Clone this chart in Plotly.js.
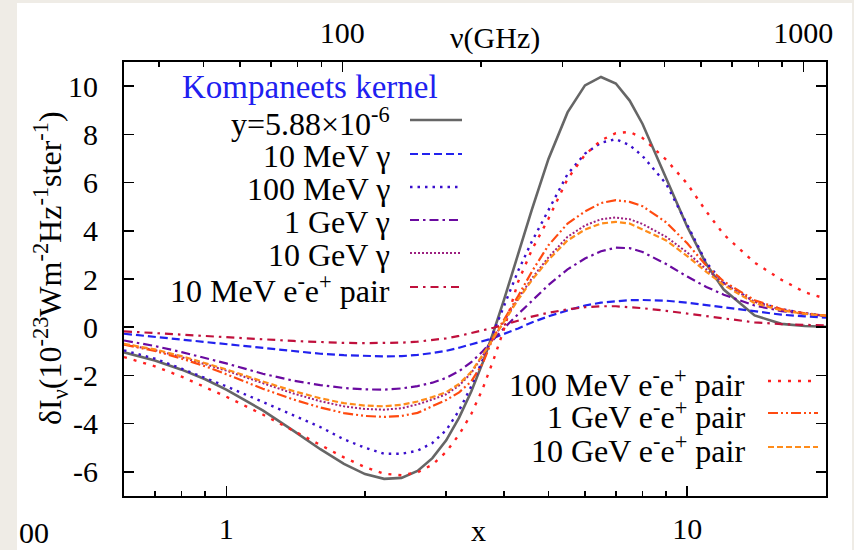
<!DOCTYPE html>
<html>
<head>
<meta charset="utf-8">
<script src="https://cdn.plot.ly/plotly-3.0.1.min.js"></script>
<style>
  html, body { margin: 0; padding: 0; background: #efece6; }
  #bg { position: absolute; left: 17px; top: 3px; width: 835px; height: 547px; background: #ffffff; }
  #plot { position: absolute; left: 0; top: 0; width: 854px; height: 550px; }
</style>
</head>
<body>
<div id="bg"></div>
<div id="plot"></div>
<script>
// ---- data ----
const xVals = [0.6,0.7,0.8,0.9,1.0,1.2,1.4,1.6,1.8,2.0,2.2,2.4,2.6,2.8,3.0,3.2,3.4,3.6,3.8,4.0,4.3,4.6,5.0,5.5,6.0,6.5,7.0,7.5,8.0,9.0,10,11,12,14,16,18,20];

const yKompaneets = [-1.04,-1.38,-1.76,-2.16,-2.59,-3.45,-4.30,-5.06,-5.67,-6.09,-6.29,-6.25,-5.96,-5.43,-4.69,-3.75,-2.67,-1.47,-0.19,1.11,3.05,4.87,6.98,8.91,10.03,10.38,10.11,9.40,8.43,6.20,4.17,2.62,1.56,0.49,0.14,0.05,0.02];
const y10MeVGamma = [-0.27,-0.40,-0.53,-0.63,-0.73,-0.88,-1.00,-1.10,-1.16,-1.20,-1.21,-1.20,-1.15,-1.07,-0.98,-0.85,-0.70,-0.57,-0.45,-0.28,-0.05,0.20,0.45,0.70,0.90,1.02,1.08,1.12,1.13,1.10,1.02,0.92,0.82,0.65,0.52,0.45,0.40];
const y100MeVGamma = [-0.96,-1.30,-1.72,-2.10,-2.45,-3.10,-3.65,-4.14,-4.65,-5.00,-5.25,-5.25,-5.12,-4.80,-4.27,-3.45,-2.45,-1.35,-0.20,0.85,2.35,3.55,4.85,6.35,7.20,7.65,7.80,7.55,7.10,5.95,4.25,2.68,1.83,1.07,0.75,0.58,0.47];
const y1GeVGamma = [-0.55,-0.78,-1.03,-1.27,-1.50,-1.93,-2.22,-2.40,-2.52,-2.58,-2.59,-2.54,-2.44,-2.30,-2.10,-1.82,-1.45,-1.00,-0.50,-0.05,0.55,1.10,1.75,2.40,2.85,3.15,3.30,3.28,3.12,2.62,2.10,1.67,1.35,0.90,0.67,0.55,0.47];
const y10GeVGamma = [-0.70,-0.95,-1.24,-1.53,-1.80,-2.32,-2.75,-3.07,-3.28,-3.39,-3.42,-3.36,-3.20,-3.00,-2.78,-2.42,-1.90,-1.18,-0.45,0.22,1.20,2.02,2.90,3.75,4.22,4.48,4.55,4.48,4.28,3.75,3.10,2.40,1.82,1.05,0.72,0.57,0.48];
const y10MeVPair = [-0.17,-0.25,-0.32,-0.38,-0.42,-0.50,-0.57,-0.62,-0.65,-0.66,-0.66,-0.64,-0.60,-0.54,-0.46,-0.36,-0.25,-0.14,-0.02,0.10,0.28,0.44,0.60,0.74,0.83,0.87,0.87,0.84,0.79,0.68,0.56,0.45,0.35,0.20,0.13,0.09,0.07];
const y100MeVPair = [-1.24,-1.62,-2.05,-2.47,-2.88,-3.62,-4.30,-4.88,-5.40,-5.80,-6.08,-6.14,-6.02,-5.70,-5.17,-4.45,-3.60,-2.55,-1.35,-0.10,1.90,3.20,4.50,6.15,7.15,7.75,8.05,8.10,7.85,6.95,5.95,4.80,3.85,2.68,1.97,1.45,1.18];
const y1GeVPair = [-0.72,-0.98,-1.30,-1.62,-1.95,-2.55,-3.00,-3.33,-3.56,-3.68,-3.72,-3.68,-3.55,-3.28,-3.02,-2.70,-2.25,-1.50,-0.40,0.30,1.30,2.30,3.40,4.30,4.80,5.15,5.27,5.20,5.02,4.35,3.48,2.55,1.90,1.12,0.75,0.58,0.48];
const y10GeVPair = [-0.69,-0.92,-1.20,-1.48,-1.75,-2.25,-2.65,-2.95,-3.15,-3.25,-3.28,-3.22,-3.08,-2.90,-2.70,-2.35,-1.85,-1.15,-0.45,0.20,1.15,1.95,2.80,3.60,4.05,4.30,4.37,4.30,4.05,3.60,2.95,2.30,1.75,1.00,0.70,0.55,0.48];

const seriesNames = ["y=5.88×10<sup>-6</sup>","10 MeV γ","100 MeV γ","1 GeV γ","10 GeV γ",
  "10 MeV e<sup>-</sup>e<sup>+</sup> pair","100 MeV e<sup>-</sup>e<sup>+</sup> pair","1 GeV e<sup>-</sup>e<sup>+</sup> pair","10 GeV e<sup>-</sup>e<sup>+</sup> pair"];
const seriesY = [yKompaneets,y10MeVGamma,y100MeVGamma,y1GeVGamma,y10GeVGamma,y10MeVPair,y100MeVPair,y1GeVPair,y10GeVPair];

const bottomTicks = [1,10];
const bottomMinor = [0.7,0.8,0.9,2,3,4,5,6,7,8,9];
const topTicks = [100,1000];
const topMinor = [40,50,60,70,80,90,200,300,400,500,600,700,800,900];
const yTicks = [-6,-4,-2,0,2,4,6,8,10];
const nuPerX = 56.0; // GHz per unit x

// ---- styles ----
const styles = [
  {color:'#666666', width:2.6, dash:'solid'},
  {color:'#2222ee', width:2.2, dash:'8px,4px'},
  {color:'#3a0fcc', width:2.4, dash:'2.5px,5px'},
  {color:'#6a0aa0', width:2.2, dash:'9px,4px,2.5px,4px'},
  {color:'#9c2080', width:2.0, dash:'2px,2px'},
  {color:'#c0103c', width:2.2, dash:'8px,5px,2.5px,5px'},
  {color:'#ff2020', width:2.4, dash:'3px,7px'},
  {color:'#ff4a10', width:2.2, dash:'10px,3px,2px,3px,2px,3px'},
  {color:'#ff8c1a', width:2.2, dash:'6px,3px'}
];

const FONT = 'Liberation Serif';
const L = 124, R = 28, T = 62, B = 54, W = 854, H = 550;
const pw = W - L - R, ph = H - T - B;
const px2x = p => (p - L) / pw;
const py2y = p => (H - B - p) / ph;

const traces = seriesY.map((yy, i) => ({
  x: xVals, y: yy, type: 'scatter', mode: 'lines',
  line: {color: styles[i].color, width: styles[i].width, dash: styles[i].dash},
  showlegend: false, hoverinfo: 'skip'
}));
// invisible trace to activate the top axis
traces.push({x: [100], y: [0], xaxis: 'x2', yaxis: 'y', mode: 'markers', marker: {opacity: 0}, showlegend: false, hoverinfo: 'skip'});

// ---- legend (gnuplot style: text right, sample line right of it) ----
const annotations = [];
const shapes = [];
const legUpperY = [120,154,187,220,253,287];
const legLowerY = [381,413,447];
annotations.push({xref:'paper', yref:'paper', x: px2x(310), y: py2y(87), text:'Kompaneets kernel',
  showarrow:false, xanchor:'center', yanchor:'middle', font:{family:FONT, size:33, color:'#2020f0'}});
for (let i = 0; i < 6; i++) {
  annotations.push({xref:'paper', yref:'paper', x: px2x(392), y: py2y(legUpperY[i] + 2), text: seriesNames[i],
    showarrow:false, xanchor:'right', yanchor:'middle', font:{family:FONT, size:32, color:'#000'}});
  shapes.push({type:'line', xref:'paper', yref:'paper', x0: px2x(410), x1: px2x(462), y0: py2y(legUpperY[i]), y1: py2y(legUpperY[i]),
    line:{color: styles[i].color, width: styles[i].width, dash: styles[i].dash}});
}
for (let j = 0; j < 3; j++) {
  const i = 6 + j;
  annotations.push({xref:'paper', yref:'paper', x: px2x(747), y: py2y(legLowerY[j] + 2), text: seriesNames[i],
    showarrow:false, xanchor:'right', yanchor:'middle', font:{family:FONT, size:32, color:'#000'}});
  shapes.push({type:'line', xref:'paper', yref:'paper', x0: px2x(768), x1: px2x(818), y0: py2y(legLowerY[j]), y1: py2y(legLowerY[j]),
    line:{color: styles[i].color, width: styles[i].width, dash: styles[i].dash}});
}
// axis titles
annotations.push({xref:'paper', yref:'paper', x: px2x(478), y: py2y(530), text:'x', showarrow:false,
  xanchor:'center', yanchor:'middle', font:{family:FONT, size:30, color:'#000'}});
annotations.push({xref:'paper', yref:'paper', x: px2x(495), y: py2y(38), text:'ν(GHz)', showarrow:false,
  xanchor:'center', yanchor:'middle', font:{family:FONT, size:30, color:'#000'}});
annotations.push({xref:'paper', yref:'paper', x: px2x(50), y: py2y(268), textangle:-90,
  text:'δI<sub>ν</sub>(10<sup>-23</sup>Wm<sup>-2</sup>Hz<sup>-1</sup>ster<sup>-1</sup>)', showarrow:false,
  xanchor:'center', yanchor:'middle', font:{family:FONT, size:32, color:'#000'}});
annotations.push({xref:'paper', yref:'paper', x: px2x(17), y: py2y(532), text:'00', showarrow:false,
  xanchor:'left', yanchor:'middle', font:{family:FONT, size:30, color:'#000'}});

const layout = {
  width: W, height: H,
  margin: {l: L, r: R, t: T, b: B, pad: 0},
  paper_bgcolor: 'rgba(0,0,0,0)', plot_bgcolor: '#ffffff',
  showlegend: false,
  font: {family: FONT, size: 30, color: '#000'},
  xaxis: {
    type: 'log', range: [Math.log10(0.6), Math.log10(20)],
    tickmode: 'array', tickvals: bottomTicks, ticktext: bottomTicks.map(String),
    ticks: 'inside', ticklen: 10, tickwidth: 1.5, tickcolor: '#000',
    minor: {tickmode: 'array', tickvals: bottomMinor, ticks: 'inside', ticklen: 5, tickwidth: 1.5, tickcolor: '#000', showgrid: false},
    showline: true, linecolor: '#000', linewidth: 2, mirror: true,
    showgrid: false, zeroline: false, ticklabelstandoff: 5,
    tickfont: {family: FONT, size: 30, color: '#000'}
  },
  xaxis2: {
    type: 'log', overlaying: 'x', side: 'top',
    range: [Math.log10(0.6 * nuPerX), Math.log10(20 * nuPerX)],
    tickmode: 'array', tickvals: topTicks, ticktext: topTicks.map(String),
    ticks: 'inside', ticklen: 10, tickwidth: 1.5, tickcolor: '#000',
    minor: {tickmode: 'array', tickvals: topMinor, ticks: 'inside', ticklen: 5, tickwidth: 1.5, tickcolor: '#000', showgrid: false},
    showline: true, linecolor: '#000', linewidth: 2,
    showgrid: false, zeroline: false, ticklabelstandoff: 5,
    tickfont: {family: FONT, size: 30, color: '#000'}
  },
  yaxis: {
    range: [-7, 11], tickmode: 'array', tickvals: yTicks, ticktext: yTicks.map(String),
    ticks: 'inside', ticklen: 10, tickwidth: 1.5, tickcolor: '#000',
    showline: true, linecolor: '#000', linewidth: 2, mirror: 'ticks',
    showgrid: false, zeroline: false, ticklabelstandoff: 18,
    tickfont: {family: FONT, size: 30, color: '#000'}
  },
  annotations: annotations,
  shapes: shapes
};

Plotly.newPlot('plot', traces, layout, {displayModeBar: false, staticPlot: true});
</script>
</body>
</html>
